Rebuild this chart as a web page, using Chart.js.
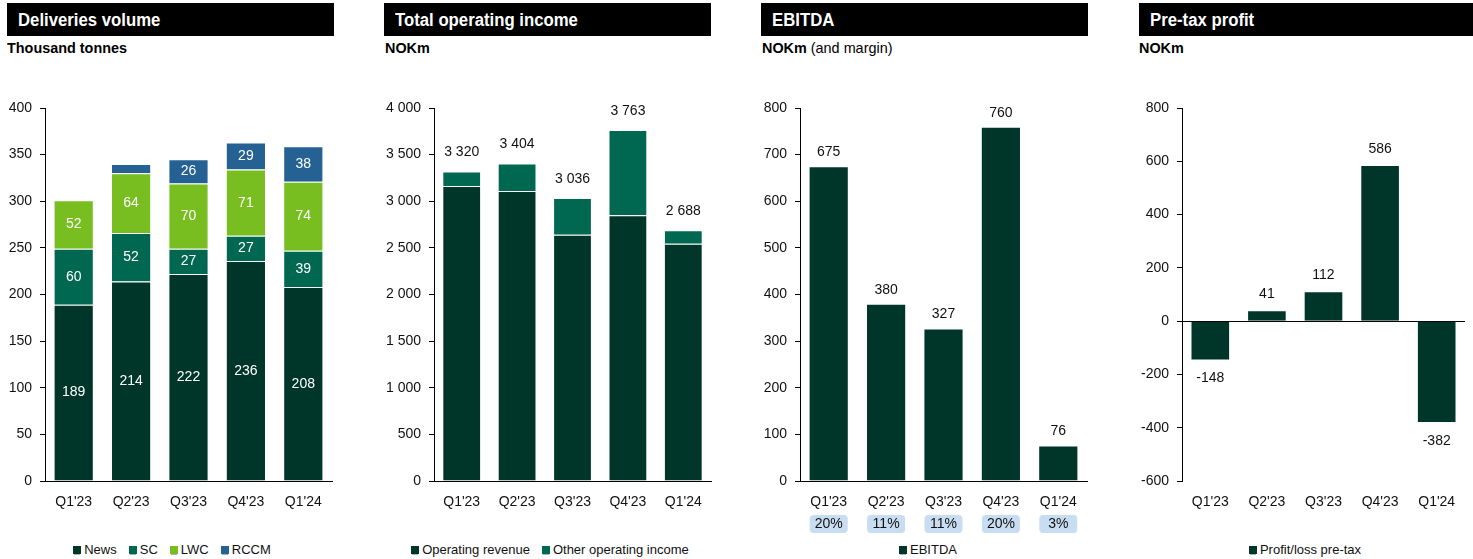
<!DOCTYPE html>
<html>
<head>
<meta charset="utf-8">
<script src="https://cdn.jsdelivr.net/npm/chart.js@4/dist/chart.umd.min.js"></script>
<style>
  html,body{margin:0;padding:0;background:#fff;}
  body{width:1473px;height:559px;position:relative;overflow:hidden;font-family:"Liberation Sans",Arial,sans-serif;}
  .hdr{position:absolute;top:3px;height:33px;background:#000;color:#fff;
       font-family:"Liberation Sans",Arial,sans-serif;
       font-weight:bold;font-size:18px;line-height:34px;padding-left:11px;box-sizing:border-box;white-space:nowrap;}
  .hdr span{display:inline-block;transform-origin:0 50%;transform:scaleX(0.93);}
  .sub span{display:inline-block;transform-origin:0 50%;transform:scaleX(0.96);}
  .sub{position:absolute;top:39px;font-family:"Liberation Sans",Arial,sans-serif;
       font-size:15px;color:#000;white-space:nowrap;}
  .sub b{font-weight:bold;}
  .cv{position:absolute;top:60px;}
  .leg{position:absolute;top:541px;width:360px;text-align:center;font-size:13px;color:#111;line-height:18px;white-space:nowrap;}
  .leg span.it{margin:0 6px;}
  .leg i{display:inline-block;width:8px;height:8px;margin-right:3px;vertical-align:0px;box-shadow:0 2px 0 -1px #9fb5ad;}
</style>
</head>
<body>
<div class="hdr" style="left:7px;width:327px;"><span>Deliveries volume</span></div>
<div class="sub" style="left:7px;"><span><b>Thousand tonnes</b></span></div>
<div class="hdr" style="left:384px;width:327px;"><span>Total operating income</span></div>
<div class="sub" style="left:385px;"><span><b>NOKm</b></span></div>
<div class="hdr" style="left:761px;width:327px;"><span>EBITDA</span></div>
<div class="sub" style="left:762px;"><span><b>NOKm</b> (and margin)</span></div>
<div class="hdr" style="left:1139px;width:334px;"><span>Pre-tax profit</span></div>
<div class="sub" style="left:1139px;"><span><b>NOKm</b></span></div>

<canvas id="c1" class="cv" style="left:0px;" width="345" height="480"></canvas>
<canvas id="c2" class="cv" style="left:384px;" width="332" height="480"></canvas>
<canvas id="c3" class="cv" style="left:754px;" width="348" height="480"></canvas>
<canvas id="c4" class="cv" style="left:1139px;" width="334" height="480"></canvas>

<div class="leg" id="l1" style="left:-8px;"></div>
<div class="leg" id="l2" style="left:370px;"></div>
<div class="leg" id="l3" style="left:748px;"></div>
<div class="leg" id="l4" style="left:1125px;"></div>

<script>
// ---- data ----
const quarters = ["Q1'23", "Q2'23", "Q3'23", "Q4'23", "Q1'24"];
const newsVolume = [189, 214, 222, 236, 208];
const scVolume = [60, 52, 27, 27, 39];
const lwcVolume = [52, 64, 70, 71, 74];
const rccmVolume = [0, 10, 26, 29, 38];
const operatingRevenue = [3164, 3110, 2640, 2850, 2545];
const otherOperatingIncome = [156, 294, 396, 913, 143];
const totalOperatingIncome = [3320, 3404, 3036, 3763, 2688];
const ebitda = [675, 380, 327, 760, 76];
const ebitdaMargin = ["20%", "11%", "11%", "20%", "3%"];
const preTaxProfit = [-148, 41, 112, 586, -382];

// ---- styles ----
const DARK = '#00362a', MID = '#006750', LIME = '#78be21', BLUE = '#256293';
const FONT = '"Liberation Sans", Arial, sans-serif';
const TOP = 60; // canvas top in page

Chart.defaults.font.family = FONT;
Chart.defaults.font.size = 14;
Chart.defaults.color = '#111';
Chart.defaults.animation = false;

function fmt(v){ return String(v).replace(/\B(?=(\d{3})+(?!\d))/g, ' '); }

function baseOptions(yw, padR, ymin, ymax, step, stacked, zeroLine){
  return {
    responsive:false, devicePixelRatio:1,
    layout:{padding:{top:48, right:padR, left:0, bottom:0}},
    plugins:{legend:{display:false}, tooltip:{enabled:false}},
    scales:{
      x:{stacked:stacked, grid:{display:false, drawTicks:false},
         border:{display:!zeroLine, color:'#000', width:1},
         ticks:{padding:13, color:'#111', font:{size:14}},
         afterFit(s){ s.height = 59; }},
      y:{stacked:stacked, min:ymin, max:ymax,
         ticks:{stepSize:step, padding:8, color:'#111', font:{size:14}, callback:(v)=>fmt(v)},
         grid:{drawOnChartArea:!!zeroLine, drawTicks:true, tickLength:5, tickColor:'#000',
               color:(c)=> (zeroLine && c.tick && c.tick.value===0) ? '#000' : 'rgba(0,0,0,0)', lineWidth:1},
         border:{display:true, color:'#000', width:1},
         afterFit(s){ s.width = yw; }}
    }
  };
}

function barDs(label, data, color){
  return {label, data, backgroundColor:color, borderColor:'#ffffff', borderWidth:1,
          categoryPercentage:1, barPercentage:0.7};
}

function txt(ctx, s, x, y, color){
  ctx.save();
  ctx.font = '14px ' + FONT;
  ctx.fillStyle = color;
  ctx.textAlign = 'center';
  ctx.textBaseline = 'middle';
  ctx.fillText(s, x, y);
  ctx.restore();
}

// ---- Chart 1 : deliveries volume ----
new Chart(document.getElementById('c1'), {
  type:'bar',
  data:{labels:quarters, datasets:[
    barDs('News', newsVolume, DARK),
    barDs('SC', scVolume, MID),
    barDs('LWC', lwcVolume, LIME),
    barDs('RCCM', rccmVolume, BLUE)
  ]},
  options: baseOptions(45, 13, 0, 400, 50, true, false),
  plugins:[{id:'lbl1', afterDatasetsDraw(chart){
    const ctx = chart.ctx;
    chart.data.datasets.forEach((ds, di)=>{
      chart.getDatasetMeta(di).data.forEach((el, i)=>{
        const v = ds.data[i];
        if (v >= 15) txt(ctx, String(v), el.x, (el.y + el.base)/2, '#fff');
      });
    });
  }}]
});

// ---- Chart 2 : total operating income ----
new Chart(document.getElementById('c2'), {
  type:'bar',
  data:{labels:quarters, datasets:[
    barDs('Operating revenue', operatingRevenue, DARK),
    barDs('Other operating income', otherOperatingIncome, MID)
  ]},
  options: baseOptions(50, 5, 0, 4000, 500, true, false),
  plugins:[{id:'lbl2', afterDatasetsDraw(chart){
    const ctx = chart.ctx, y = chart.scales.y, x = chart.scales.x;
    totalOperatingIncome.forEach((t, i)=>{
      txt(ctx, fmt(t), x.getPixelForValue(i), y.getPixelForValue(t) - 19, '#111');
    });
  }}]
});

// ---- Chart 3 : EBITDA ----
new Chart(document.getElementById('c3'), {
  type:'bar',
  data:{labels:quarters, datasets:[ barDs('EBITDA', ebitda, DARK) ]},
  options: baseOptions(46, 15, 0, 800, 100, false, false),
  plugins:[{id:'lbl3', afterDatasetsDraw(chart){
    const ctx = chart.ctx, y = chart.scales.y, x = chart.scales.x;
    ebitda.forEach((v, i)=>{
      txt(ctx, String(v), x.getPixelForValue(i), y.getPixelForValue(v) - 14, '#111');
    });
  }, afterDraw(chart){
    const ctx = chart.ctx, x = chart.scales.x;
    ebitdaMargin.forEach((m, i)=>{
      const cx = x.getPixelForValue(i);
      ctx.save();
      ctx.fillStyle = '#c8ddf1';
      ctx.beginPath();
      ctx.roundRect(cx - 19, 515 - TOP, 38, 18, 4);
      ctx.fill();
      ctx.restore();
      txt(ctx, m, cx, 524.5 - TOP, '#111');
    });
  }}]
});

// ---- Chart 4 : pre-tax profit ----
new Chart(document.getElementById('c4'), {
  type:'bar',
  data:{labels:quarters, datasets:[ barDs('Profit/loss pre-tax', preTaxProfit, DARK) ]},
  options: baseOptions(43, 8, -600, 800, 200, false, true),
  plugins:[{id:'lbl4', afterDatasetsDraw(chart){
    const ctx = chart.ctx, y = chart.scales.y, x = chart.scales.x;
    preTaxProfit.forEach((v, i)=>{
      const py = y.getPixelForValue(v) + (v >= 0 ? -16 : 18);
      txt(ctx, String(v), x.getPixelForValue(i), py, '#111');
    });
  }}]
});

// ---- legends ----
function legend(id, items){
  document.getElementById(id).innerHTML = items.map(([n,c]) =>
    '<span class="it"><i style="background:'+c+'"></i>'+n+'</span>').join('');
}
legend('l1', [['News',DARK],['SC',MID],['LWC',LIME],['RCCM',BLUE]]);
legend('l2', [['Operating revenue',DARK],['Other operating income',MID]]);
legend('l3', [['EBITDA',DARK]]);
legend('l4', [['Profit/loss pre-tax',DARK]]);
</script>
</body>
</html>
